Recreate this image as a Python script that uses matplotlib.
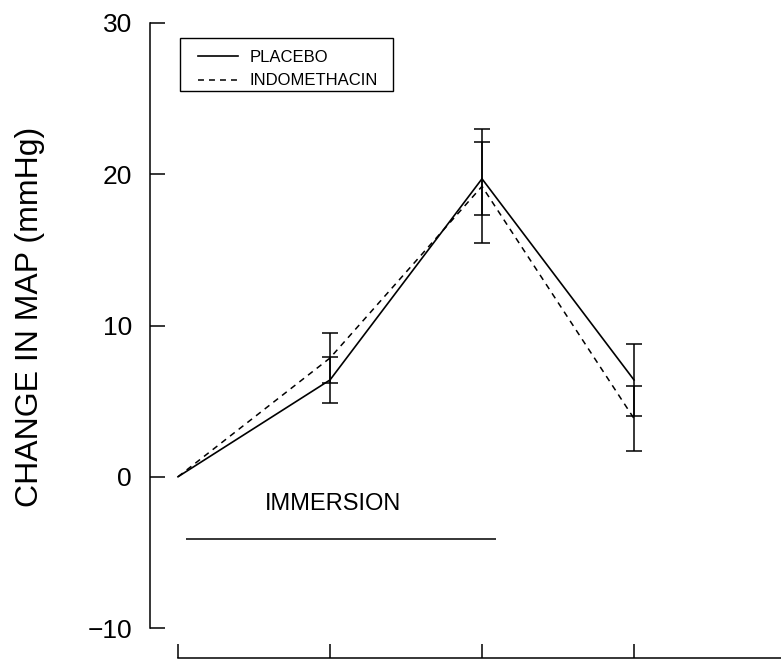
import matplotlib
matplotlib.use("Agg")
import matplotlib.pyplot as plt
from matplotlib.patches import Rectangle

plt.rcParams['font.family'] = ['Liberation Sans', 'DejaVu Sans']

# Data
time_points = [0, 1, 2, 3]
placebo = [0.0, 6.4, 19.7, 6.4]
placebo_err = [0.0, 1.55, 2.4, 2.38]
indomethacin = [0.0, 7.85, 19.2, 3.85]
indomethacin_err = [0.0, 1.65, 3.77, 2.18]
y_ticks = [-10, 0, 10, 20, 30]
immersion_start, immersion_end, immersion_level = 0.05, 2.09, -4.1

W, H = 781, 661
fig = plt.figure(figsize=(W / 100, H / 100), dpi=100)
ax_left, ax_right = 150, 781
ax_top, ax_bottom = 23, 628
ax = fig.add_axes([ax_left / W, (H - ax_bottom) / H,
                   (ax_right - ax_left) / W, (ax_bottom - ax_top) / H])

px_per_x = 152.0
xmin = -(178 - ax_left) / px_per_x
xmax = (ax_right - 178) / px_per_x
ax.set_xlim(xmin, xmax)
ax.set_ylim(-10, 30)

lw = 1.1
ax.plot(time_points, placebo, color='black', lw=1.2, linestyle='-', label='PLACEBO')
ax.plot(time_points, indomethacin, color='black', lw=1.1,
        linestyle=(0, (3.9, 3.3)), label='INDOMETHACIN')
ax.errorbar(time_points, placebo, yerr=placebo_err, fmt='none', ecolor='black',
            elinewidth=1.1, capsize=5.8, capthick=1.1, errorevery=(1, 1))
ax.errorbar(time_points, indomethacin, yerr=indomethacin_err, fmt='none', ecolor='black',
            elinewidth=1.1, capsize=5.8, capthick=1.1, errorevery=(1, 1))

ax.hlines(immersion_level, immersion_start, immersion_end, color='black', lw=1.1)
ax.text(1.02, -1.8, 'IMMERSION', ha='center', va='center', fontsize=17)

# Spines
for s in ['top', 'right']:
    ax.spines[s].set_visible(False)
ax.spines['left'].set_bounds(-10, 30)
ax.spines['left'].set_linewidth(lw)
ax.spines['bottom'].set_position(('outward', 21.6))
ax.spines['bottom'].set_bounds(0, xmax)
ax.spines['bottom'].set_linewidth(lw)

ax.set_yticks(y_ticks)
ax.set_yticklabels([str(v).replace('-', '\u2212') for v in y_ticks])
ax.set_xticks(time_points)
ax.set_xticklabels([])
ax.tick_params(axis='y', direction='in', length=10.8, width=lw, pad=13, labelsize=19)
ax.tick_params(axis='x', direction='in', length=10, width=lw)

fig.text(30 / W, (H - 317) / H, 'CHANGE IN MAP (mmHg)', rotation=90,
         ha='center', va='center', fontsize=23)

# Legend
fig.patches.append(Rectangle((180 / W, (H - 91) / H), 213 / W, 53 / H,
                             transform=fig.transFigure, fill=False,
                             edgecolor='black', lw=1.0))
leg = ax.legend(loc='upper left', bbox_to_anchor=(198 / W, (H - 50) / H),
                bbox_transform=fig.transFigure, frameon=False, fontsize=12,
                borderpad=0, borderaxespad=0, handlelength=2.4,
                handletextpad=0.7, labelspacing=0.5)

fig.savefig('out.png', dpi=100)
